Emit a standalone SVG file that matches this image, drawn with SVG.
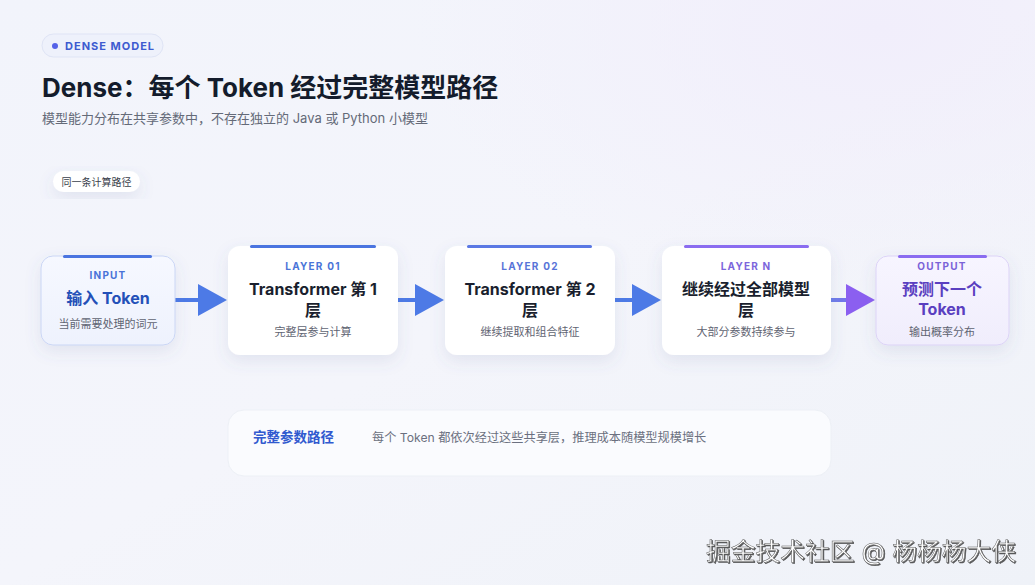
<svg xmlns="http://www.w3.org/2000/svg" width="1035" height="585" viewBox="0 0 1035 585">
<defs>
<style>
text{font-family:Inter,"Noto Sans CJK SC",sans-serif}
.tag{font-size:10px;font-weight:700;letter-spacing:1.2px;text-anchor:middle}
.ttl{font-size:16px;font-weight:700;fill:#1a1f2e;text-anchor:middle}
.sub{font-size:11px;fill:#5f6472;text-anchor:middle}
.card{fill:#ffffff}
.line{stroke-width:4;fill:none}
</style>
<linearGradient id="bg" x1="0" y1="0" x2="1" y2="1">
<stop offset="0" stop-color="#f2f4fb"/>
<stop offset="0.5" stop-color="#f4f5fb"/>
<stop offset="1" stop-color="#eff2f8"/>
</linearGradient>
<radialGradient id="glow" cx="0.85" cy="0.05" r="0.45">
<stop offset="0" stop-color="#f1eefb"/>
<stop offset="1" stop-color="#f1eefb" stop-opacity="0"/>
</radialGradient>
<linearGradient id="inFill" x1="0" y1="0" x2="0" y2="1">
<stop offset="0" stop-color="#f6f8ff"/>
<stop offset="1" stop-color="#eef2fd"/>
</linearGradient>
<linearGradient id="outFill" x1="0" y1="0" x2="0" y2="1">
<stop offset="0" stop-color="#f7f5ff"/>
<stop offset="1" stop-color="#f0edfc"/>
</linearGradient>
<linearGradient id="arrG" x1="830" y1="0" x2="876" y2="0" gradientUnits="userSpaceOnUse">
<stop offset="0" stop-color="#6b7fe8"/>
<stop offset="1" stop-color="#8b5ff0"/>
</linearGradient>
<filter id="sh" x="-20%" y="-20%" width="140%" height="150%">
<feDropShadow dx="0" dy="6" stdDeviation="8" flood-color="#5a6a9a" flood-opacity="0.12"/>
</filter>
<filter id="wm" x="-5%" y="-20%" width="110%" height="140%">
<feDropShadow dx="1" dy="1" stdDeviation="0.6" flood-color="#333" flood-opacity="0.8"/>
</filter>
</defs>

<rect width="1035" height="585" fill="url(#bg)"/>
<rect width="1035" height="585" fill="url(#glow)"/>

<g id="header">
<rect x="42" y="34" width="121" height="23" rx="11.5" fill="#eef1fb" stroke="#dfe4f5"/>
<circle cx="55" cy="46" r="3" fill="#5562e8"/>
<text x="65" y="50" font-size="11" font-weight="700" fill="#3d5bd0" letter-spacing="1">DENSE MODEL</text>
<text x="42" y="97" font-size="26" font-weight="700" fill="#141c2c">Dense：每个 Token 经过完整模型路径</text>
<text x="42" y="123" font-size="13" fill="#646a78">模型能力分布在共享参数中，不存在独立的 Java 或 Python 小模型</text>
</g>

<g id="path-label">
<rect x="53" y="171" width="87" height="21" rx="10.5" fill="#ffffff" filter="url(#sh)"/>
<text x="96.5" y="185.5" font-size="10" fill="#3a3f4c" text-anchor="middle">同一条计算路径</text>
</g>

<g id="connectors">
<line class="line" x1="175" y1="300" x2="202" y2="300" stroke="#4d7ae6"/>
<polygon points="198,284 227,300 198,316" fill="#4d7ae6"/>
<line class="line" x1="398" y1="300" x2="418" y2="300" stroke="#4d7ae6"/>
<polygon points="415,284 444,300 415,316" fill="#4d7ae6"/>
<line class="line" x1="614" y1="300" x2="635" y2="300" stroke="#4d7ae6"/>
<polygon points="632,284 661,300 632,316" fill="#4d7ae6"/>
<line class="line" x1="831" y1="300" x2="849" y2="300" stroke="url(#arrG)"/>
<polygon points="846,284 875,300 846,316" fill="#8b5ff0"/>
</g>

<g id="input">
<rect x="41" y="256" width="134" height="89" rx="12" fill="url(#inFill)" stroke="#cad6f5" filter="url(#sh)"/>
<rect x="63" y="255" width="89" height="3" rx="1.5" fill="#4a74e0"/>
<text class="tag" x="108" y="279" fill="#4a72d8">INPUT</text>
<text x="108" y="304" font-size="16" font-weight="700" fill="#2350b8" text-anchor="middle">输入 Token</text>
<text class="sub" x="108" y="328">当前需要处理的词元</text>
</g>

<g id="layer01">
<rect class="card" x="228" y="246" width="170" height="109" rx="12" filter="url(#sh)"/>
<rect x="250" y="245" width="126" height="3" rx="1.5" fill="#4a74e0"/>
<text class="tag" x="313" y="270" fill="#4a74d8">LAYER 01</text>
<text class="ttl" x="313" y="295">Transformer 第 1</text>
<text class="ttl" x="313" y="316">层</text>
<text class="sub" x="313" y="336">完整层参与计算</text>
</g>

<g id="layer02">
<rect class="card" x="445" y="246" width="170" height="109" rx="12" filter="url(#sh)"/>
<rect x="467" y="245" width="125" height="3" rx="1.5" fill="#5a78e4"/>
<text class="tag" x="530" y="270" fill="#5874d8">LAYER 02</text>
<text class="ttl" x="530" y="295">Transformer 第 2</text>
<text class="ttl" x="530" y="316">层</text>
<text class="sub" x="530" y="336">继续提取和组合特征</text>
</g>

<g id="layerN">
<rect class="card" x="662" y="246" width="169" height="109" rx="12" filter="url(#sh)"/>
<rect x="684" y="245" width="125" height="3" rx="1.5" fill="#8a6cf0"/>
<text class="tag" x="746" y="270" fill="#7c66dc">LAYER N</text>
<text class="ttl" x="746" y="295">继续经过全部模型</text>
<text class="ttl" x="746" y="316">层</text>
<text class="sub" x="746" y="336">大部分参数持续参与</text>
</g>

<g id="output">
<rect x="876" y="256" width="133" height="89" rx="12" fill="url(#outFill)" stroke="#dcd3f7" filter="url(#sh)"/>
<rect x="898" y="255" width="89" height="3" rx="1.5" fill="#8a6cf0"/>
<text class="tag" x="942" y="270" fill="#7a62d8">OUTPUT</text>
<text x="942" y="295" font-size="16" font-weight="700" fill="#5a3fc0" text-anchor="middle">预测下一个</text>
<text x="942" y="315" font-size="16" font-weight="700" fill="#5a3fc0" text-anchor="middle">Token</text>
<text class="sub" x="942" y="336">输出概率分布</text>
</g>

<g id="summary">
<rect x="228" y="410" width="603" height="66" rx="16" fill="#fafbfe" stroke="#edf0f6"/>
<text x="253" y="442" font-size="13.5" font-weight="700" fill="#3059cf">完整参数路径</text>
<text x="372" y="442" font-size="12.2" fill="#6b7080">每个 Token 都依次经过这些共享层，推理成本随模型规模增长</text>
</g>

<g id="watermark">
<text x="706" y="560" font-size="24" fill="#ffffff" stroke="#555" stroke-width="0.5" filter="url(#wm)" textLength="310" lengthAdjust="spacingAndGlyphs">掘金技术社区 @ 杨杨杨大侠</text>
</g>
</svg>
